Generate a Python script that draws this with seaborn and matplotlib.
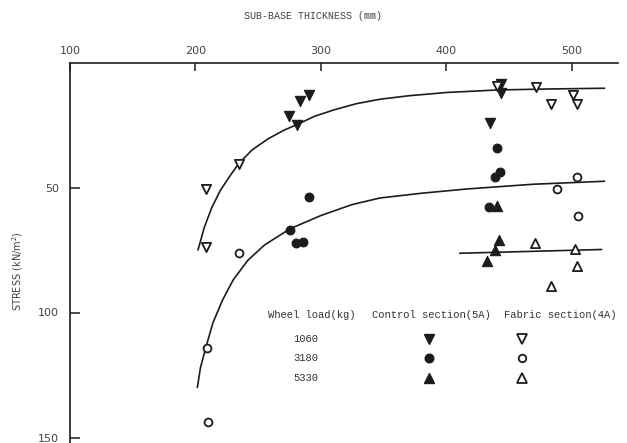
import matplotlib
matplotlib.use("Agg")
import matplotlib.pyplot as plt
import seaborn as sns
import pandas as pd
from matplotlib.lines import Line2D

# ---------------- data ----------------
# 1060 kg wheel load
ctrl_1060_x = [290.3, 283.4, 274.3, 281.0, 443.8, 443.3, 434.5]
ctrl_1060_y = [12.9, 15.2, 21.2, 24.8, 8.5, 12.3, 24.3]
fab_1060_x = [234.4, 208.3, 208.3, 439.9, 471.0, 483.2, 501.0, 503.7]
fab_1060_y = [40.5, 50.5, 73.9, 9.2, 9.6, 16.5, 12.8, 16.5]
# 3180 kg wheel load
ctrl_3180_x = [290.3, 275.4, 280.1, 285.5, 440.6, 438.5, 442.5, 434.0]
ctrl_3180_y = [53.9, 66.8, 72.3, 71.9, 34.1, 45.9, 43.9, 57.9]
fab_3180_x = [234.4, 208.8, 209.6, 503.7, 487.8, 505.0]
fab_3180_y = [76.3, 114.1, 143.9, 45.9, 50.5, 61.2]
# 5330 kg wheel load
ctrl_5330_x = [440.6, 441.9, 438.5, 432.6]
ctrl_5330_y = [57.2, 70.9, 74.9, 79.2]
fab_5330_x = [470.5, 502.4, 503.7, 483.7]
fab_5330_y = [72.3, 74.5, 81.2, 89.2]

# hand-drawn trend curves
curve_1060_x = [202, 207, 213, 220, 228, 234.4, 245, 258, 270, 281, 295, 310,
                328, 347, 370, 400, 440, 480, 526]
curve_1060_y = [75, 66, 58, 51, 45, 40.5, 35, 30.5, 27.2, 24.8, 21.5, 19,
                16.5, 14.7, 13.3, 12, 11, 10.6, 10.3]
curve_3180_x = [201.5, 204, 208.8, 214, 221.6, 230, 241.6, 255, 275.4, 300,
                325, 347, 380, 416, 469, 526]
curve_3180_y = [130, 122, 113, 104, 95, 87, 79.2, 73, 66.5, 61.2,
                56.8, 54.2, 52.3, 50.6, 48.7, 47.5]
curve_5330_x = [410.6, 523.7]
curve_5330_y = [76.3, 74.8]

loads = ["1060", "3180", "5330"]
x_ticks = [100, 200, 300, 400, 500]
y_ticks = [50, 100, 150]
x_title = "SUB-BASE THICKNESS (mm)"
y_title = "STRESS (kN/m$^2$)"
legend_head = ["Wheel load(kg)", "Control section(5A)", "Fabric section(4A)"]

# ---------------- build tables ----------------
ctrl = pd.DataFrame({
    "x": ctrl_1060_x + ctrl_3180_x + ctrl_5330_x,
    "y": ctrl_1060_y + ctrl_3180_y + ctrl_5330_y,
    "load": ["1060"] * len(ctrl_1060_x) + ["3180"] * len(ctrl_3180_x) + ["5330"] * len(ctrl_5330_x),
})
fab = pd.DataFrame({
    "x": fab_1060_x + fab_3180_x + fab_5330_x,
    "y": fab_1060_y + fab_3180_y + fab_5330_y,
    "load": ["1060"] * len(fab_1060_x) + ["3180"] * len(fab_3180_x) + ["5330"] * len(fab_5330_x),
})
curves = pd.DataFrame({
    "x": curve_1060_x + curve_3180_x + curve_5330_x,
    "y": curve_1060_y + curve_3180_y + curve_5330_y,
    "load": ["1060"] * len(curve_1060_x) + ["3180"] * len(curve_3180_x) + ["5330"] * len(curve_5330_x),
})

markers = {"1060": "v", "3180": "o", "5330": "^"}
sizes = {"1060": 55, "3180": 40, "5330": 55}
INK = "#1c1c1c"

sns.set_theme(style="white")
plt.rcParams["font.family"] = ["DejaVu Sans"]

fig = plt.figure(figsize=(6.27, 4.43), dpi=100)
ax = fig.add_axes([70 / 627, 0.0, (618 - 70) / 627, 1 - 62.5 / 443])

# curves
for ld in loads:
    sub = curves[curves["load"] == ld]
    sns.lineplot(data=sub, x="x", y="y", sort=False, estimator=None,
                 color=INK, linewidth=1.2, ax=ax)

# control section: filled markers
for ld in loads:
    sub = ctrl[ctrl["load"] == ld]
    sns.scatterplot(data=sub, x="x", y="y", marker=markers[ld], s=sizes[ld],
                    color=INK, edgecolor=INK, linewidth=0.8, ax=ax, legend=False,
                    zorder=3)

# fabric section: open markers
for ld in loads:
    sub = fab[fab["load"] == ld]
    sns.scatterplot(data=sub, x="x", y="y", marker=markers[ld], s=sizes[ld] * 0.8,
                    color=INK, edgecolor=INK, linewidth=1.3, ax=ax, legend=False,
                    zorder=3)
    ax.collections[-1].set_facecolor("white")

# axes styling
ax.set_xlim(100, 100 + (618 - 71) / 1.2525)
ax.set_ylim((443 - 62.5) / 2.5, 0)
for s in ["right", "bottom"]:
    ax.spines[s].set_visible(False)
for s in ["top", "left"]:
    ax.spines[s].set_visible(True)
    ax.spines[s].set_color(INK)
    ax.spines[s].set_linewidth(1.2)

ax.xaxis.set_ticks_position("top")
ax.xaxis.set_label_position("top")
ax.set_xticks(x_ticks)
ax.set_yticks(y_ticks)
ax.set_xticklabels([str(t) for t in x_ticks])
ax.set_yticklabels([str(t) for t in y_ticks])
ax.tick_params(axis="x", direction="in", length=6, width=1.1, color=INK,
               pad=5, labelsize=8, labelcolor="#444444", top=True, bottom=False)
ax.tick_params(axis="y", direction="in", length=7, width=1.1, color=INK,
               pad=8, labelsize=8, labelcolor="#444444", left=True)
ax.set_xlabel("")
ax.set_ylabel("")

fig.text(313 / 627, 1 - 16 / 443, x_title, ha="center", va="center",
         fontsize=7.2, family="Liberation Mono", color="#444444")
fig.text(18 / 627, 1 - 271 / 443, y_title, ha="center", va="center",
         rotation=90, fontsize=7, color="#444444")

# legend block
head_x = [311.7, 431.7, 560.0]
for hx, txt in zip(head_x, legend_head):
    fig.text(hx / 627, 1 - 315 / 443, txt, ha="center", va="center",
             fontsize=7.6, family="Liberation Mono", color="#333333")
row_y = [339.3, 358.3, 378.3]
for ry, ld in zip(row_y, loads):
    fig.text(306 / 627, 1 - ry / 443, ld, ha="center", va="center",
             fontsize=7.6, family="Liberation Mono", color="#333333")
    fig.lines.append(Line2D([429.3 / 627], [1 - ry / 443], transform=fig.transFigure,
                            marker=markers[ld], markersize=7.4 if ld != "3180" else 6.2,
                            color=INK, markerfacecolor=INK, linestyle="none"))
    fig.lines.append(Line2D([521.7 / 627], [1 - ry / 443], transform=fig.transFigure,
                            marker=markers[ld], markersize=6.6 if ld != "3180" else 5.4,
                            color=INK, markerfacecolor="white", markeredgewidth=1.3,
                            linestyle="none"))

fig.savefig("out.png", dpi=100, facecolor="white")
